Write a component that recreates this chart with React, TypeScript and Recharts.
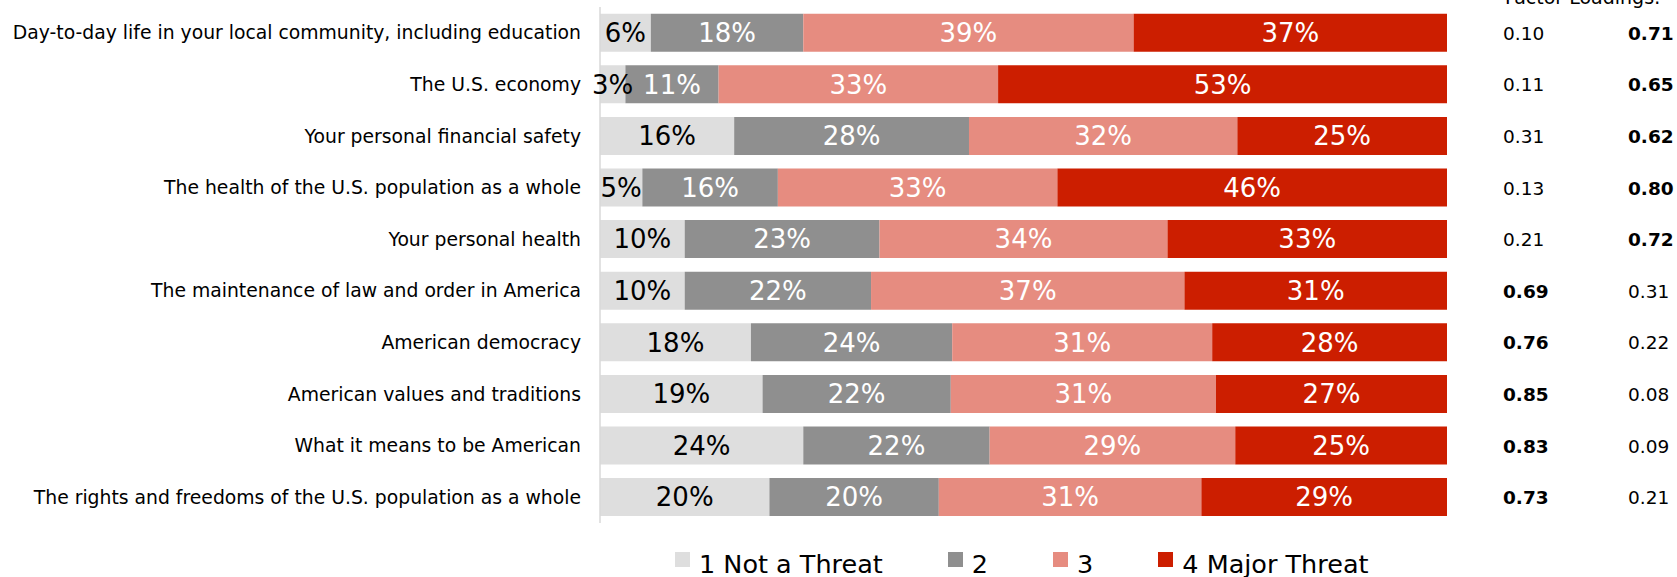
import React from "react";
import { BarChart, Bar, XAxis, YAxis, LabelList } from "recharts";

// ---------------------------------------------------------------------------
// Data
// ---------------------------------------------------------------------------

const categories = [
  "Day-to-day life in your local community, including education",
  "The U.S. economy",
  "Your personal financial safety",
  "The health of the U.S. population as a whole",
  "Your personal health",
  "The maintenance of law and order in America",
  "American democracy",
  "American values and traditions",
  "What it means to be American",
  "The rights and freedoms of the U.S. population as a whole",
];

const notThreat = [6, 3, 16, 5, 10, 10, 18, 19, 24, 20];
const level2 = [18, 11, 28, 16, 23, 22, 24, 22, 22, 20];
const level3 = [39, 33, 32, 33, 34, 37, 31, 31, 29, 31];
const majorThreat = [37, 53, 25, 46, 33, 31, 28, 27, 25, 29];

const factor1 = [0.1, 0.11, 0.31, 0.13, 0.21, 0.69, 0.76, 0.85, 0.83, 0.73];
const factor2 = [0.71, 0.65, 0.62, 0.8, 0.72, 0.31, 0.22, 0.08, 0.09, 0.21];

const SERIES = [
  { key: "s1", label: "1 Not a Threat", color: "#dedede", text: "#000000" },
  { key: "s2", label: "2", color: "#8f8f8f", text: "#ffffff" },
  { key: "s3", label: "3", color: "#e68c80", text: "#ffffff" },
  { key: "s4", label: "4 Major Threat", color: "#cc1e00", text: "#ffffff" },
];

const chartData = categories.map((name, i) => ({
  name,
  s1: notThreat[i],
  s2: level2[i],
  s3: level3[i],
  s4: majorThreat[i],
}));

const FONT = "'DejaVu Sans', sans-serif";

// ---------------------------------------------------------------------------
// Custom tick for the factor loading columns
// ---------------------------------------------------------------------------

function FactorTick(props: any) {
  const { y, payload } = props;
  const i = payload.index;
  const a = factor1[i];
  const b = factor2[i];
  return (
    <g>
      <text
        x={1503}
        y={y}
        dy={7}
        fontFamily={FONT}
        fontSize={18.5}
        fontWeight={a > b ? 700 : 400}
        fill="#000"
      >
        {a.toFixed(2)}
      </text>
      <text
        x={1628}
        y={y}
        dy={7}
        fontFamily={FONT}
        fontSize={18.5}
        fontWeight={b > a ? 700 : 400}
        fill="#000"
      >
        {b.toFixed(2)}
      </text>
    </g>
  );
}

function ChartLegend() {
  return (
    <div
      style={{
        position: "absolute",
        left: 675,
        top: 550,
        display: "flex",
        alignItems: "flex-start",
        fontFamily: FONT,
        fontSize: 25.5,
        lineHeight: "29px",
        color: "#000",
      }}
    >
      {SERIES.map((s, i) => (
        <div
          key={s.key}
          style={{
            display: "flex",
            alignItems: "flex-start",
            marginRight: i < SERIES.length - 1 ? 65 : 0,
          }}
        >
          <span
            style={{
              display: "inline-block",
              width: 15,
              height: 15,
              marginTop: 2,
              marginRight: 9,
              background: s.color,
            }}
          />
          <span>{s.label}</span>
        </div>
      ))}
    </div>
  );
}

// ---------------------------------------------------------------------------
// Component
// ---------------------------------------------------------------------------

export default function App() {
  return (
    <div
      style={{
        position: "absolute",
        left: 0,
        top: 0,
        width: 1677,
        height: 577,
        overflow: "hidden",
        background: "#fff",
      }}
    >
      <div
        style={{
          position: "absolute",
          left: 1505,
          top: -14,
          fontFamily: FONT,
          fontSize: 19,
          whiteSpace: "nowrap",
          color: "#000",
        }}
      >
        Factor Loadings:
      </div>
      <BarChart
        width={1677}
        height={577}
        data={chartData}
        layout="vertical"
        stackOffset="expand"
        barCategoryGap="13%"
        margin={{ top: 7, right: 0, left: 0, bottom: 54 }}
      >
        <XAxis type="number" hide domain={[0, 1]} />
        <YAxis
          yAxisId="left"
          type="category"
          dataKey="name"
          width={600}
          axisLine={{ stroke: "#d9d9d9", strokeWidth: 1.5 }}
          tickLine={false}
          tickSize={0}
          tickMargin={19}
          tick={{ fontFamily: FONT, fontSize: 18.8, fill: "#000" }}
          interval={0}
        />
        <YAxis
          yAxisId="right"
          orientation="right"
          type="category"
          dataKey="name"
          width={230}
          axisLine={false}
          tickLine={false}
          tick={<FactorTick />}
          interval={0}
        />
        {SERIES.map((s) => (
          <Bar
            key={s.key}
            yAxisId="left"
            dataKey={s.key}
            stackId="a"
            fill={s.color}
            isAnimationActive={false}
          >
            <LabelList
              dataKey={s.key}
              position="center"
              formatter={(v: any) => `${v}%`}
              style={{ fontFamily: FONT, fontSize: 26, fill: s.text }}
            />
          </Bar>
        ))}
      </BarChart>
      <ChartLegend />
    </div>
  );
}
